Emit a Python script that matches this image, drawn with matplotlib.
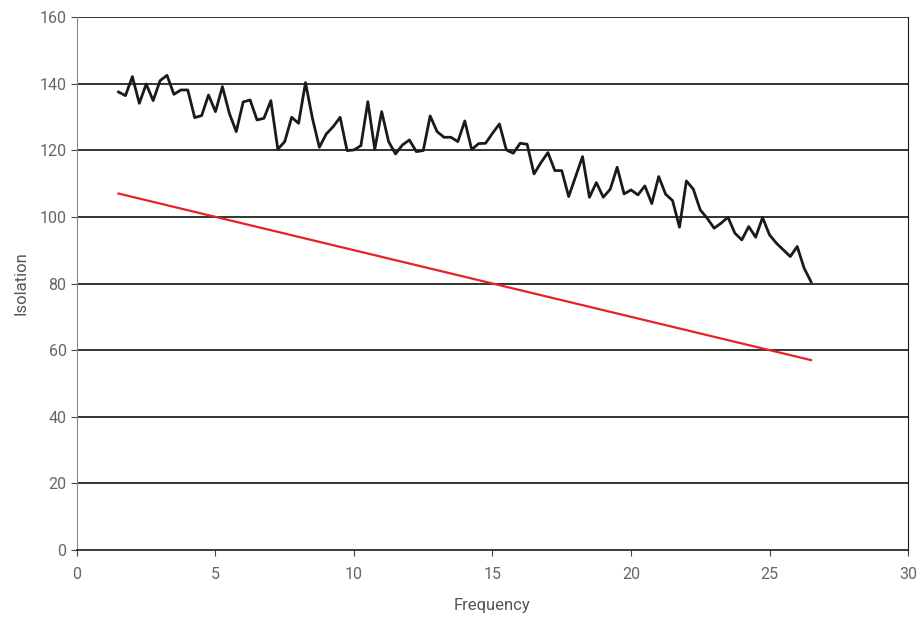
import matplotlib
matplotlib.use('Agg')
import numpy as np
import matplotlib.pyplot as plt

# Frequências medidas (passo de 0.25)
freq = np.linspace(1.5, 26.5, 101)

isolation = [
    137.5, 136.4, 142.1, 134.1, 139.9, 134.9, 140.9, 142.5, 136.8, 138.1,
    138.1, 129.8, 130.4, 136.6, 131.6, 139.1, 131.1, 125.6, 134.5, 135.1,
    129.1, 129.6, 134.9, 120.3, 122.6, 129.9, 128.1, 140.3, 129.6, 120.9,
    124.9, 127.1, 129.9, 119.9, 120.1, 121.4, 134.6, 120.3, 131.6, 122.6,
    118.9, 121.6, 123.1, 119.6, 119.9, 130.3, 125.6, 123.9, 123.9, 122.6,
    128.8, 120.2, 122.0, 122.1, 125.1, 127.9, 120.1, 119.1, 122.1, 121.8,
    112.9, 116.3, 119.3, 113.9, 113.9, 106.1, 112.1, 118.1, 105.9, 110.3,
    105.9, 108.3, 114.9, 106.9, 108.1, 106.6, 109.3, 104.0, 112.1, 106.8,
    104.9, 96.9, 110.8, 108.3, 102.1, 99.6, 96.6, 98.1, 99.9, 95.1,
    93.1, 97.1, 93.9, 99.8, 94.6, 92.1, 90.1, 88.1, 91.1, 84.6,
    80.5,
]

# Limite (linha vermelha)
limit_freq = [1.5, 26.5]
limit_vals = [107, 57]

plt.rcParams['font.family'] = ['Roboto', 'DejaVu Sans']

fig = plt.figure(figsize=(9.24, 6.19), dpi=100)
ax = fig.add_axes([0.0833, 0.1115, 0.8994, 0.861])

ax.plot(limit_freq, limit_vals, color='#e8202a', lw=1.6, zorder=3)
ax.plot(freq, isolation, color='#1a1a1a', lw=2.0, zorder=4)

ax.set_xlim(0, 30)
ax.set_ylim(0, 160)
ax.set_xticks(range(0, 31, 5))
ax.set_yticks(range(0, 161, 20))

# linhas de grade horizontais
for yv in range(20, 161, 20):
    ax.axhline(yv, color='#111111', lw=1.2, zorder=1)

ax.spines['top'].set_visible(False)
ax.spines['left'].set_color('#888888')
ax.spines['right'].set_color('#1a1a1a')
ax.spines['bottom'].set_color('#1a1a1a')
ax.spines['bottom'].set_linewidth(1.2)

ax.tick_params(axis='both', color='#444444', labelsize=11.5, length=4, width=0.8)
ax.tick_params(axis='both', labelcolor='#666666')
ax.tick_params(axis='x', pad=8)

ax.set_xlabel('Frequency', fontsize=12, color='#555555', labelpad=12)
ax.set_ylabel('Isolation', fontsize=12, color='#555555', labelpad=8)

fig.savefig('out.png', dpi=100)
plt.close()
